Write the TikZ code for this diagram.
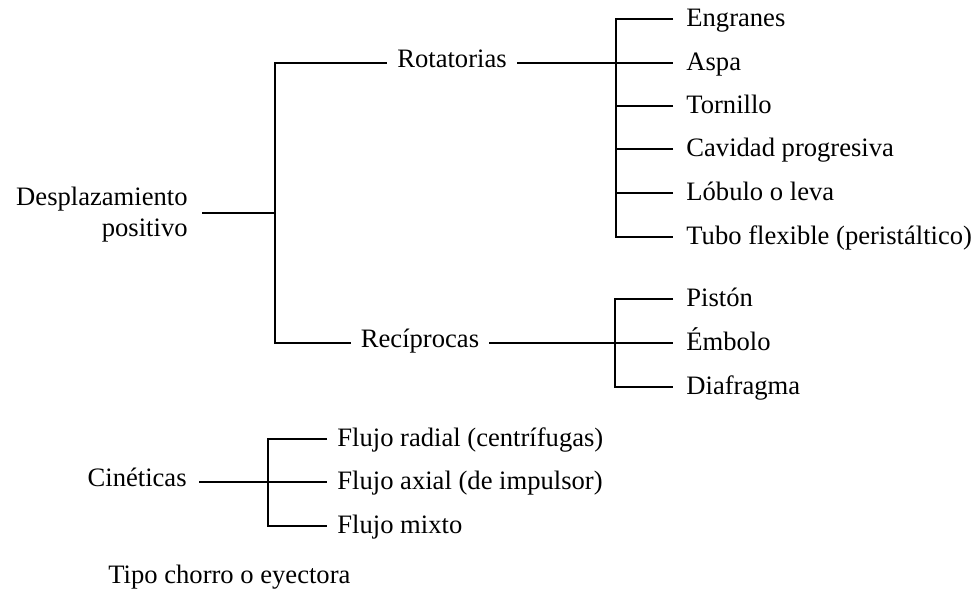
\documentclass[tikz,border=0pt]{standalone}
\usepackage{fontspec}
\setmainfont{Liberation Serif}
\begin{document}
\begin{tikzpicture}[x=0.5pt,y=-0.5pt,
  every node/.style={font=\fontsize{13.3}{15.5}\selectfont, inner ysep=0pt},
  mid/.style={inner xsep=5pt, text height=0.7em, text depth=0.25em},
  leaf/.style={anchor=west, inner xsep=6.5pt, text height=0.95em, text depth=0.2em},
  leafb/.style={anchor=west, inner xsep=5pt, text height=0.95em, text depth=0.2em},
  ln/.style={line width=0.7pt}]
\useasboundingbox (0,0) rectangle (979,591);

% root
\node[anchor=east, align=right, inner xsep=7pt] (dp) at (202,214.5) {Desplazamiento\\positivo};
\coordinate (vt) at (275,63);
\coordinate (vm) at (275,213);
\coordinate (vb) at (275,343);

\node[mid] (rot) at (452,63) {Rotatorias};
\node[mid] (rec) at (420,343) {Recíprocas};

\draw[ln] (dp.east |- vm) -- (vm);
\draw[ln] (rot.west) -- (vt) -- (vb) -- (rec.west);

% rotatorias leaves
\node[leaf] (eng) at (673,19) {Engranes};
\node[leaf] (asp) at (673,63) {Aspa};
\node[leaf] (tor) at (673,106) {Tornillo};
\node[leaf] (cav) at (673,149) {Cavidad progresiva};
\node[leaf] (lob) at (673,193) {Lóbulo o leva};
\node[leaf] (tub) at (673,237) {Tubo flexible (peristáltico)};

\draw[ln] (rot.east) -- (asp.west);
\draw[ln] (eng.west) -- ++(-57,0) |- (tub.west);
\draw[ln] (tor.west) -- ++(-57,0);
\draw[ln] (cav.west) -- ++(-57,0);
\draw[ln] (lob.west) -- ++(-57,0);

% reciprocas leaves
\node[leaf] (pis) at (673,299) {Pistón};
\node[leaf] (emb) at (673,343) {Émbolo};
\node[leaf] (dia) at (673,387) {Diafragma};

\draw[ln] (rec.east) -- (emb.west);
\draw[ln] (pis.west) -- ++(-58,0) |- (dia.west);

% cineticas
\node[anchor=east, inner xsep=6pt, text height=0.7em, text depth=0.25em] (cin) at (199,482) {Cinéticas};
\node[leafb] (fr) at (327,439) {Flujo radial (centrífugas)};
\node[leafb] (fa) at (327,482) {Flujo axial (de impulsor)};
\node[leafb] (fm) at (327,526) {Flujo mixto};

\draw[ln] (cin.east) -- (fa.west);
\draw[ln] (fr.west) -- ++(-59,0) |- (fm.west);

% chorro
\node[anchor=base west, inner sep=0pt] (tc) at (108,583) {Tipo chorro o eyectora};
\end{tikzpicture}
\end{document}
